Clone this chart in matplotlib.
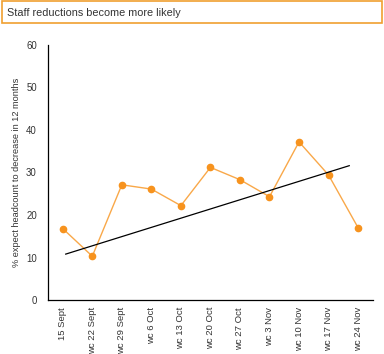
import matplotlib.pyplot as plt
from matplotlib.patches import Rectangle

plt.rcParams['font.family'] = ['Liberation Sans', 'DejaVu Sans']

# Data
weeks = ['15 Sept', 'wc 22 Sept', 'wc 29 Sept', 'wc 6 Oct', 'wc 13 Oct', 'wc 20 Oct',
         'wc 27 Oct', 'wc 3 Nov', 'wc 10 Nov', 'wc 17 Nov', 'wc 24 Nov']
pct_decrease = [16.8, 10.3, 27.1, 26.1, 22.2, 31.2, 28.3, 24.3, 37.2, 29.4, 17.0]
trend_x = [0.1, 9.7]
trend_y = [10.8, 31.6]
y_ticks = [0, 10, 20, 30, 40, 50, 60]

orange = '#F7931E'
text_col = '#333333'

fig = plt.figure(figsize=(3.84, 3.54), dpi=100)
ax = fig.add_axes([0.125, 0.1525, 0.846, 0.7205])

x = list(range(len(weeks)))
ax.plot(x, pct_decrease, color='#F9A849', lw=1, zorder=2)
ax.plot(x, pct_decrease, 'o', color=orange, ms=4.5, mec=orange, zorder=3)
ax.plot(trend_x, trend_y, color='black', lw=0.9, zorder=4)

ax.set_xlim(-0.5, 10.5)
ax.set_ylim(0, 60)
ax.set_yticks(y_ticks)
ax.set_xticks(x)
ax.set_xticklabels(weeks, rotation=90, fontsize=6.8, color=text_col)
ax.tick_params(axis='y', labelsize=6.9, labelcolor=text_col, length=0, pad=8)
ax.tick_params(axis='x', length=0, pad=5)
ax.set_ylabel('% expect headcount to decrease in 12 months', fontsize=6.6,
              color=text_col, labelpad=3.5)

for s in ['top', 'right']:
    ax.spines[s].set_visible(False)
for s in ['left', 'bottom']:
    ax.spines[s].set_linewidth(0.9)

# title box
fig.patches.append(Rectangle((1.5 / 384, 1 - 23 / 354), 380 / 384, 21.5 / 354,
                             transform=fig.transFigure, fill=False,
                             edgecolor='#F0A030', lw=1.2))
fig.text(7 / 384, 1 - 12.5 / 354, 'Staff reductions become more likely',
         fontsize=7.8, color=text_col, va='center', ha='left')

fig.savefig('out.png', dpi=100)
